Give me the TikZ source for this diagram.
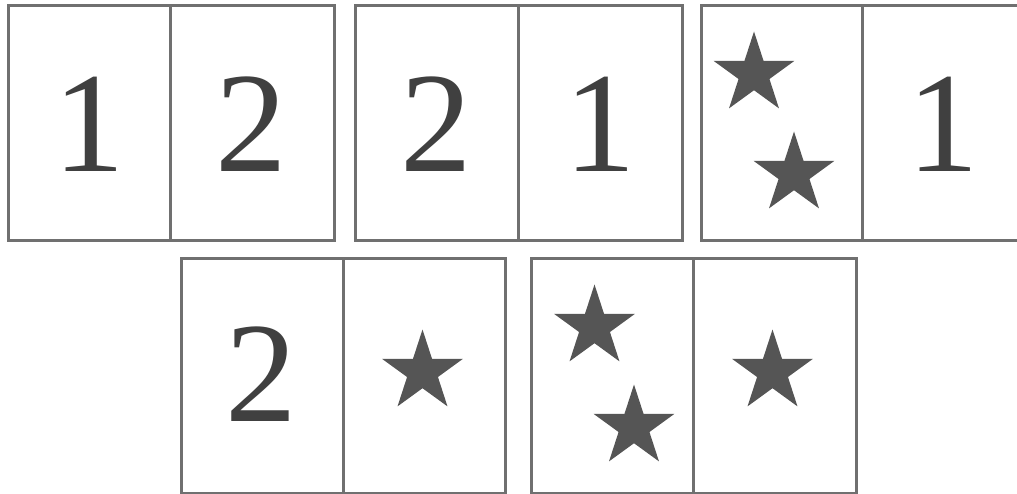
\documentclass[tikz,border=0pt]{standalone}
\usepackage{fontspec}
\setmainfont{Liberation Serif}
\usetikzlibrary{shapes.geometric}
\definecolor{framecol}{HTML}{707070}
\definecolor{digitcol}{HTML}{404040}
\definecolor{starcol}{HTML}{555555}
\tikzset{
  tile/.style={draw=framecol, line width=3pt, fill=white},
  digit/.style={inner sep=0pt, text=digitcol, font=\fontsize{143}{143}\selectfont},
  pip/.style={shape=star, star points=5, star point ratio=2.618, minimum size=85pt, inner sep=0pt, fill=starcol, draw=none}
}
\begin{document}
\begin{tikzpicture}[x=1pt,y=-1pt]
\useasboundingbox (0,0) rectangle (1017,494);
% top row
\draw[tile] (8,6) rectangle (334,241); \draw[tile] (170,6) -- (170,241);
\draw[tile] (355,6) rectangle (682,241); \draw[tile] (518,6) -- (518,241);
\draw[tile] (701,6) rectangle (1024,241); \draw[tile] (862,6) -- (862,241);
% bottom row
\draw[tile] (181,259) rectangle (505,493); \draw[tile] (343,259) -- (343,493);
\draw[tile] (531,259) rectangle (856,493); \draw[tile] (693,259) -- (693,493);
% digits
\node[digit] (a1) at (89,124.5) {1};
\node[digit] (a2) at (251,124) {2};
\node[digit] (b1) at (436.5,124) {2};
\node[digit] (b2) at (600,124.5) {1};
\node[digit] (c2) at (943,124.5) {1};
\node[digit] (d1) at (261,374) {2};
% stars
\node[pip] (c1s1) at (754,74) {};
\node[pip] (c1s2) at (794,174) {};
\node[pip] (d2s) at (422.5,372) {};
\node[pip] (e1s1) at (594.5,327) {};
\node[pip] (e1s2) at (634,427) {};
\node[pip] (e2s) at (772.5,372) {};
\end{tikzpicture}
\end{document}
